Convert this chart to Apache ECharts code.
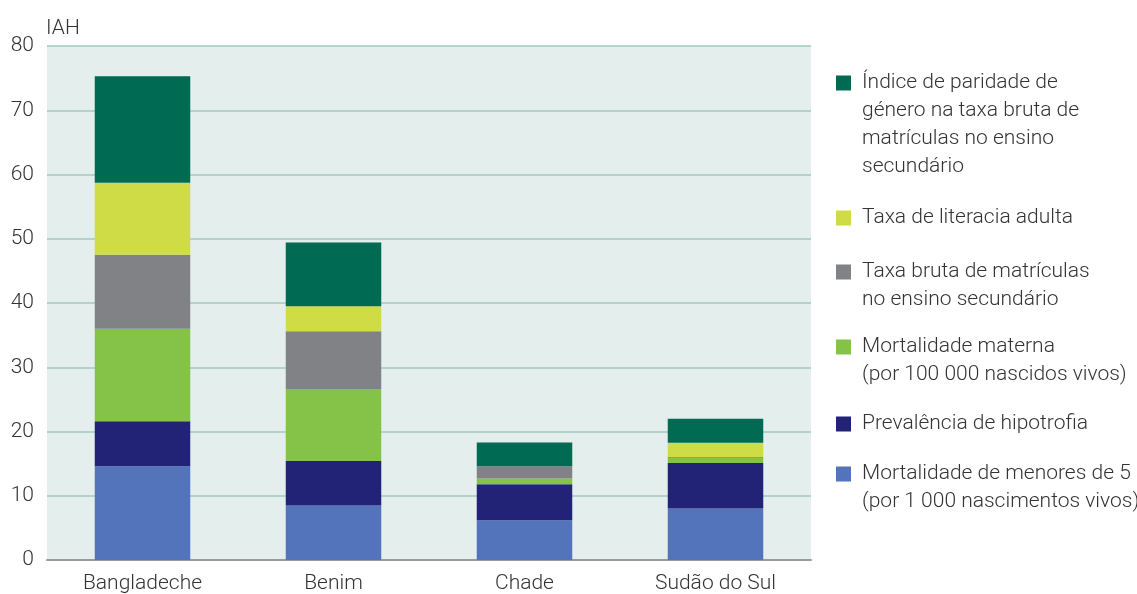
<!DOCTYPE html>
<html>
<head>
<meta charset="utf-8">
<script src="https://cdn.jsdelivr.net/npm/echarts@6/dist/echarts.min.js"></script>
<style>
  html, body { margin: 0; padding: 0; background: #ffffff; }
  #chart { width: 1137px; height: 594px; }
</style>
</head>
<body>
<div id="chart"></div>
<script>
// Countries on the category axis
const countries = ['Bangladeche', 'Benim', 'Chade', 'Sudão do Sul'];

// Contribution of each indicator to the index (IAH), stacked bottom to top
const mortalidadeMenores5 = [14.6, 8.5, 6.2, 8.0];
const hipotrofia          = [7.0, 6.9, 5.6, 7.1];
const mortalidadeMaterna  = [14.4, 11.2, 0.9, 0.8];
const matriculasSecund    = [11.5, 9.0, 1.9, 0.15];
const literaciaAdulta     = [11.2, 3.9, 0, 2.2];
const paridadeGenero      = [16.6, 9.9, 3.7, 3.75];

const yTicks = [0, 10, 20, 30, 40, 50, 60, 70, 80];

// Legend entries, top to bottom, with their wrapped text
const legendItems = [
  { name: 'Índice de paridade de género', lines: ['Índice de paridade de', 'género na taxa bruta de', 'matrículas no ensino', 'secundário'] },
  { name: 'Taxa de literacia adulta', lines: ['Taxa de literacia adulta'] },
  { name: 'Taxa bruta de matrículas', lines: ['Taxa bruta de matrículas', 'no ensino secundário'] },
  { name: 'Mortalidade materna', lines: ['Mortalidade materna', '(por 100 000 nascidos vivos)'] },
  { name: 'Prevalência de hipotrofia', lines: ['Prevalência de hipotrofia'] },
  { name: 'Mortalidade de menores de 5', lines: ['Mortalidade de menores de 5', '(por 1 000 nascimentos vivos)'] }
];
const legendFirstLineY = [83, 218, 272, 347, 424, 474];

const FONT = "'Roboto', sans-serif";
const FS = 21;
const FW = 300;
const TEXT = '#333333';
const LH = 28;

const seriesDefs = [
  { name: 'Mortalidade de menores de 5', data: mortalidadeMenores5, color: '#5374bb' },
  { name: 'Prevalência de hipotrofia', data: hipotrofia, color: '#222277' },
  { name: 'Mortalidade materna', data: mortalidadeMaterna, color: '#84c347' },
  { name: 'Taxa bruta de matrículas', data: matriculasSecund, color: '#818285' },
  { name: 'Taxa de literacia adulta', data: literaciaAdulta, color: '#cfdc46' },
  { name: 'Índice de paridade de género', data: paridadeGenero, color: '#006a52' }
];

// One legend block per entry; blank lines above the text keep the swatch
// level with the first line of a wrapped label
const legends = legendItems.map((item, i) => {
  const n = item.lines.length;
  const top = legendFirstLineY[i] - (2 * n - 1) * LH / 2;
  const text = new Array(n - 1).fill('\u00a0').concat(item.lines).join('\n');
  return {
    orient: 'vertical',
    left: 836,
    top: top,
    padding: 0,
    itemWidth: 15,
    itemHeight: 15,
    icon: 'rect',
    selectedMode: false,
    data: [item.name],
    formatter: () => text,
    textStyle: {
      fontFamily: FONT,
      fontSize: FS,
      fontWeight: FW,
      color: TEXT,
      lineHeight: LH,
      padding: [0, 0, 0, 6]
    }
  };
});

const chart = echarts.init(document.getElementById('chart'), null, { renderer: 'canvas' });

chart.setOption({
  animation: false,
  backgroundColor: '#ffffff',
  grid: {
    left: 47,
    right: 326,
    top: 46,
    bottom: 33,
    show: true,
    backgroundColor: '#e4efed',
    borderWidth: 0
  },
  legend: legends,
  xAxis: {
    type: 'category',
    data: countries,
    axisTick: { show: false },
    axisLine: { lineStyle: { color: '#9a9a9a', width: 2 } },
    axisLabel: { fontFamily: FONT, fontSize: FS, fontWeight: FW, color: TEXT, margin: 13 }
  },
  yAxis: {
    type: 'value',
    min: 0,
    max: 80,
    interval: 10,
    name: 'IAH',
    nameLocation: 'end',
    nameGap: 7,
    nameTextStyle: { fontFamily: FONT, fontSize: FS, fontWeight: FW, color: TEXT, align: 'left', padding: [0, 0, 0, -1] },
    axisLine: { show: false },
    axisTick: { show: false },
    axisLabel: {
      fontFamily: FONT, fontSize: FS, fontWeight: FW, color: TEXT, margin: 13,
      formatter: v => (yTicks.includes(v) ? String(v) : '')
    },
    splitLine: { lineStyle: { color: '#9fcbbf', width: 1.5 } }
  },
  series: seriesDefs.map(s => ({
    name: s.name,
    type: 'bar',
    stack: 'iah',
    data: s.data,
    barWidth: '50%',
    itemStyle: { color: s.color }
  }))
});
</script>
</body>
</html>
